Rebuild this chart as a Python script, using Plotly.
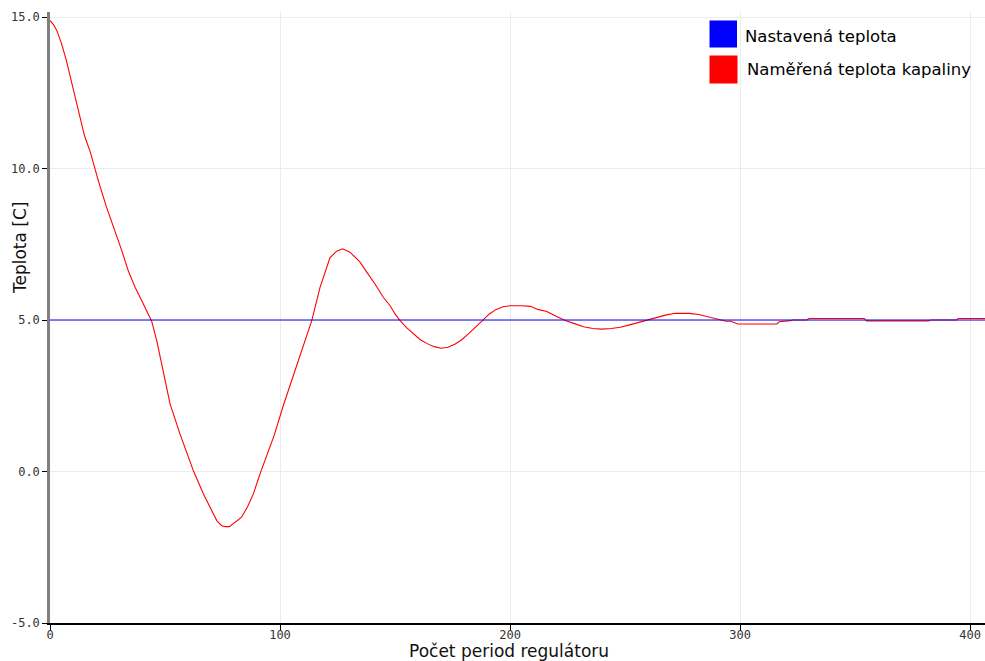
import plotly.graph_objects as go

# Data
period = [0, 1.5, 3, 5, 7, 9, 11, 13, 15, 17.5, 19.5, 21, 24.5, 28.3, 31.2, 34, 37, 40, 42, 44.2,
          46.4, 49.3, 52.2, 56.5, 59.5, 62.3, 66.7, 70, 72.5, 74.5, 76.1, 78, 83.3, 86, 88.4, 91.3,
          94, 97.5, 101.4, 105.8, 110.1, 113.8, 117.4, 120, 121.7, 124.6, 127.2, 130.4, 134.8,
          137.7, 141.3, 144.9, 147.8, 150, 152.2, 155, 158, 161, 164, 167, 170, 173,
          176, 179, 182, 185, 188, 191, 194, 197, 200, 205, 209, 212, 216, 220, 224, 228,
          232, 236, 240, 244, 248, 252, 256, 260, 264, 268, 272, 278, 282, 286, 290, 294,
          296, 299, 316, 317, 322, 323, 329, 330, 354, 355, 361, 382, 383, 394, 395, 406.5]
measured = [14.88, 14.75, 14.55, 14.12, 13.6, 12.95, 12.33, 11.69, 11.08, 10.55, 9.98, 9.6, 8.74,
            7.95, 7.29, 6.63, 6.08, 5.62, 5.31, 4.96,
            4.32, 3.22, 2.23, 1.24, 0.6, 0.03, -0.74, -1.25, -1.62, -1.78, -1.82, -1.82, -1.51,
            -1.15, -0.74, -0.08,
            0.5, 1.2, 2.17, 3.17, 4.21, 4.98, 6.08, 6.7, 7.05, 7.27, 7.35, 7.24, 6.91,
            6.58, 6.19, 5.75, 5.48, 5.2, 4.98, 4.75, 4.54, 4.35, 4.22, 4.12, 4.07, 4.1,
            4.2, 4.35, 4.55, 4.75, 4.98, 5.2, 5.35, 5.44, 5.47, 5.47, 5.45, 5.35, 5.28, 5.12, 4.98, 4.88,
            4.78, 4.72, 4.7, 4.72, 4.76, 4.84, 4.92, 5.02, 5.1, 5.17, 5.22, 5.22, 5.18, 5.1, 5.03, 4.96,
            4.96, 4.87, 4.87, 4.94, 4.98, 5.0, 5.0, 5.05, 5.05, 4.97, 4.97, 4.97, 5.0, 5.0, 5.05, 5.05]
setpoint_x = [0, 406.5]
setpoint_y = [5.0, 5.0]

x_ticks = [0, 100, 200, 300, 400]
y_ticks = [-5.0, 0.0, 5.0, 10.0, 15.0]

legend_names = ["Nastavená teplota", "Naměřená teplota kapaliny"]
legend_colors = ["#0000ff", "#ff0000"]

fig = go.Figure()
fig.add_trace(go.Scatter(x=period, y=measured, mode="lines", name=legend_names[1],
                         line=dict(color=legend_colors[1], width=1.1), showlegend=False))
fig.add_trace(go.Scatter(x=setpoint_x, y=setpoint_y, mode="lines", name=legend_names[0],
                         line=dict(color=legend_colors[0], width=1.1), showlegend=False))

W, H = 985, 661
L, R, T, B = 50, 985, 12, 623


def px(x):
    return (x - L) / (R - L)


def py(y):
    return (B - y) / (B - T)


shapes = [
    dict(type="rect", xref="paper", yref="paper", x0=px(709.5), x1=px(737), y0=py(47.5), y1=py(20.5),
         fillcolor=legend_colors[0], line=dict(width=0)),
    dict(type="rect", xref="paper", yref="paper", x0=px(709.5), x1=px(737.5), y0=py(83.5), y1=py(55.5),
         fillcolor=legend_colors[1], line=dict(width=0)),
]
annotations = [
    dict(text=legend_names[0], xref="paper", yref="paper", x=px(742.5), y=py(37), xanchor="left",
         yanchor="middle", showarrow=False, font=dict(family="DejaVu Sans", size=16.5, color="#000")),
    dict(text=legend_names[1], xref="paper", yref="paper", x=px(745), y=py(69.5), xanchor="left",
         yanchor="middle", showarrow=False, font=dict(family="DejaVu Sans", size=16.5, color="#000")),
    dict(text="Počet period regulátoru", xref="paper", yref="paper", x=px(508.5), y=py(650.5),
         xanchor="center", yanchor="middle", showarrow=False,
         font=dict(family="DejaVu Sans", size=17, color="#111")),
    dict(text="Teplota [C]", xref="paper", yref="paper", x=px(20), y=py(247), textangle=-90,
         xanchor="center", yanchor="middle", showarrow=False,
         font=dict(family="DejaVu Sans", size=17, color="#111")),
]

fig.update_layout(
    width=W, height=H,
    margin=dict(l=L, r=W - R, t=T, b=H - B, pad=0),
    plot_bgcolor="white", paper_bgcolor="white",
    shapes=shapes, annotations=annotations,
    showlegend=False,
    xaxis=dict(range=[0, 406.5], tickvals=x_ticks, ticktext=[str(v) for v in x_ticks],
               showgrid=True, gridcolor="#ececec", gridwidth=1, zeroline=False,
               showline=True, linecolor="#000", linewidth=1.5,
               ticks="outside", ticklen=5, tickcolor="#000", tickwidth=1,
               ticklabelstandoff=-5,
               tickfont=dict(family="DejaVu Sans Mono", size=12, color="#333")),
    yaxis=dict(range=[-5, 15.165], tickvals=y_ticks, ticktext=[f"{v:.1f}" for v in y_ticks],
               showgrid=True, gridcolor="#ececec", gridwidth=1, zeroline=False,
               showline=True, linecolor="#808080", linewidth=2.5,
               ticks="outside", ticklen=5, tickcolor="#000", tickwidth=1,
               tickfont=dict(family="DejaVu Sans Mono", size=12, color="#333")),
)

fig.write_html("out.html")
